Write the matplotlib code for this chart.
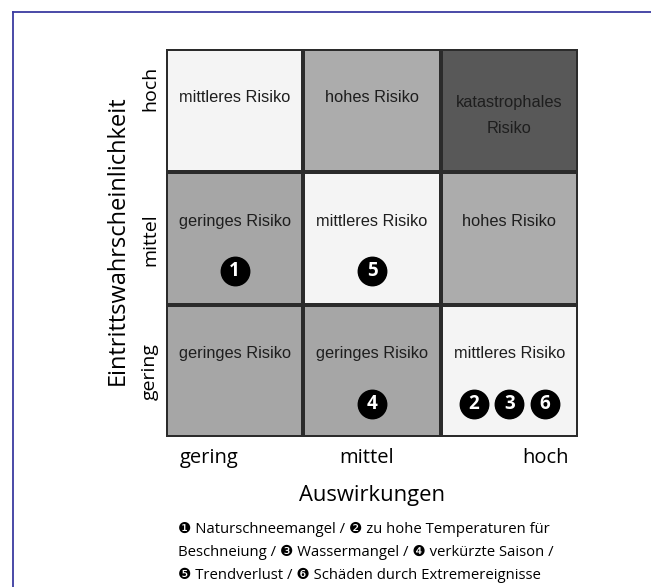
import matplotlib.pyplot as plt
from matplotlib.colors import ListedColormap
import numpy as np

# risk matrix data
levels = ["gering", "mittel", "hoch"]          # impact (x) and probability (y)
risk_names = ["geringes Risiko", "mittleres Risiko", "hohes Risiko", "katastrophales\nRisiko"]
risk_colors = ["#a6a6a6", "#f4f4f4", "#acacac", "#585858"]
# rows: probability gering, mittel, hoch / cols: impact gering, mittel, hoch
risk_matrix = [[0, 0, 1],
               [0, 1, 2],
               [1, 2, 3]]

# risks placed in the matrix
risk_ids = [1, 2, 3, 4, 5, 6]
risk_impact = [0, 2, 2, 1, 1, 2]
risk_prob = [1, 0, 0, 0, 1, 0]

legend_text = ("\u2776 Naturschneemangel / \u2777 zu hohe Temperaturen für\n"
               "Beschneiung / \u2778 Wassermangel / \u2779 verkürzte Saison /\n"
               "\u277a Trendverlust / \u277b Schäden durch Extremereignisse")

W, H = 651, 587
fig = plt.figure(figsize=(W / 100, H / 100), dpi=100)
ax = fig.add_axes([166 / W, 1 - 437 / H, 412 / W, 388 / H])

# top row is a bit shorter in the original
x_edges = np.array([0, 1, 2, 3])
y_edges = np.array([0, 1, 2, 2.93])
cmap = ListedColormap(risk_colors)
ax.pcolormesh(x_edges, y_edges, np.array(risk_matrix), cmap=cmap,
              vmin=-0.5, vmax=3.5, edgecolor="#2b2b2b", linewidth=1.7)
ax.set_xlim(0, 3)
ax.set_ylim(0, y_edges[-1])

for r in range(3):
    for c in range(3):
        name = risk_names[risk_matrix[r][c]]
        yy = y_edges[r + 1] - (0.5 if "\n" in name else 0.37)
        ax.text(c + 0.5, yy, name, ha="center", va="center", fontsize=11.8,
                family="Liberation Sans", color="#1e1e1e", linespacing=1.9)

# circled numbers, side by side when several share a cell
cells = {}
for i, c, p in zip(risk_ids, risk_impact, risk_prob):
    cells.setdefault((c, p), []).append(i)
for (c, p), ids in cells.items():
    n = len(ids)
    for k, i in enumerate(ids):
        x = c + 0.5 + (k - (n - 1) / 2) * 0.26
        y = p + 0.25
        ax.scatter([x], [y], s=420, color="black", zorder=3)
        ax.text(x, y, str(i), ha="center", va="center", color="white",
                fontsize=13.5, fontweight="bold", family="Open Sans", zorder=4)

ax.set_xticks([])
ax.set_yticks([])
for s in ax.spines.values():
    s.set_visible(False)

# row labels (pixel rows of the original)
row_y = [372, 240, 88]
for y, lab in zip(row_y, levels):
    fig.text(150 / W, 1 - y / H, lab, rotation=90, ha="center", va="center",
             fontsize=14, family="Open Sans")
fig.text(118 / W, 1 - 240 / H, "Eintrittswahrscheinlichkeit", rotation=90,
         ha="center", va="center", fontsize=17, family="Open Sans")

# column labels (not centred on the cells in the original)
col_x = [209, 367, 545]
for x, lab in zip(col_x, levels):
    fig.text(x / W, 1 - 458 / H, lab, ha="center", va="center", fontsize=14.5, family="Open Sans")
fig.text(372 / W, 1 - 495 / H, "Auswirkungen", ha="center", va="center",
         fontsize=15.8, family="Open Sans")

fig.text(178 / W, 1 - 552.5 / H, legend_text, ha="left", va="center", fontsize=10.7,
         family=["Open Sans", "DejaVu Sans"], linespacing=1.7)

# frame of the clipped page
fx, fy = 12.5 / W, 1 - 11.5 / H
fig.add_artist(plt.Line2D([fx, 1], [fy, fy], transform=fig.transFigure,
                          color="#3a3aa0", linewidth=1.3))
fig.add_artist(plt.Line2D([fx, fx], [0, fy], transform=fig.transFigure,
                          color="#3a3aa0", linewidth=1.3))

fig.savefig("out.png", dpi=100)
